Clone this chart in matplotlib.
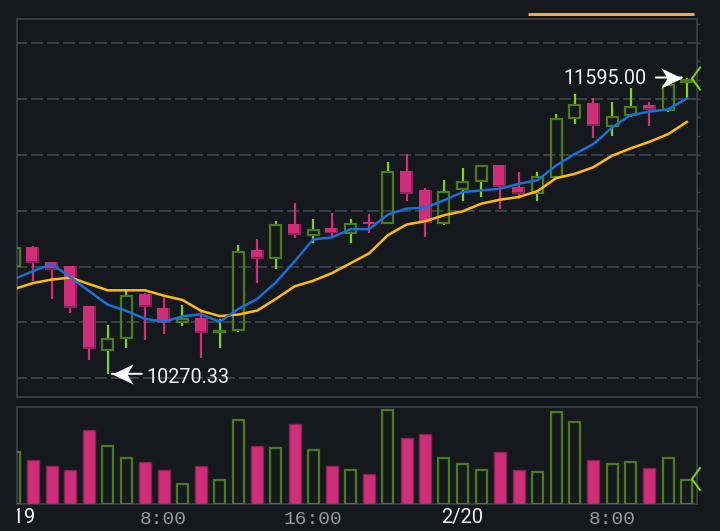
import matplotlib
matplotlib.use('Agg')
import matplotlib.pyplot as plt
from matplotlib.patches import Rectangle
from matplotlib.lines import Line2D
from matplotlib.path import Path
from matplotlib import transforms as mtrans
import numpy as np

# ---------------- data ----------------
tick_idx = [0, 8, 16, 24, 32]
tick_labels = ['2/19', '8:00', '16:00', '2/20', '8:00']
date_ticks = ['2/19', '2/20']

opens = [10745.7, 10838.9, 10769.2, 10750.2, 10572.6, 10372.9, 10427.5, 10627.2, 10565.1, 10497.2,
         10520.7, 10452.8, 10461.7, 10822.5, 10782.6, 10937.9, 10887.7, 10920.1, 10894.8, 10949.0,
         10942.3, 11177.5, 11090.1, 10942.3, 11090.1, 11127.4, 11204.2, 11106.5, 11075.5, 11145.1,
         11411.4, 11482.4, 11375.9, 11423.0, 11470.5, 11445.2, 11571.2]
highs = [10878.9, 10842.0, 10772.0, 10752.0, 10575.0, 10488.3, 10639.2, 10630.0, 10621.5, 10577.1,
         10550.5, 10517.6, 10846.0, 10872.7, 10952.5, 11032.4, 10961.4, 10988.0, 10961.4, 10986.7,
         11218.8, 11253.0, 11102.1, 11138.9, 11190.9, 11205.0, 11206.0, 11174.4, 11174.4, 11430.5,
         11522.4, 11501.5, 11485.1, 11545.9, 11485.1, 11570.0, 11595.0]
lows = [10668.5, 10683.6, 10606.4, 10542.9, 10331.2, 10270.33, 10384.5, 10420.0, 10446.6, 10482.1,
        10340.1, 10384.5, 10458.0, 10676.0, 10739.5, 10878.9, 10854.9, 10878.9, 10853.6, 10900.2,
        10940.0, 11041.3, 10881.5, 10934.8, 11041.3, 11059.1, 11005.8, 11050.2, 11041.3, 11143.0,
        11386.1, 11324.0, 11334.2, 11420.3, 11378.6, 11442.5, 11501.5]
closes = [10838.9, 10764.8, 10735.1, 10565.1, 10380.0, 10428.9, 10624.1, 10568.2, 10498.5, 10517.6,
          10452.8, 10466.1, 10821.2, 10782.6, 10937.9, 10890.4, 10918.8, 10898.0, 10944.5, 10937.9,
          11176.2, 11075.5, 10946.8, 11087.5, 11131.8, 11202.8, 11105.2, 11075.5, 11156.7, 11414.1,
          11478.0, 11378.6, 11423.0, 11467.4, 11449.6, 11568.1, 11590.3]
volumes = [53, 45, 39, 35, 75, 59, 47, 43, 35, 21, 39, 25, 85, 59, 57, 81, 55, 39, 35, 31,
           95, 67, 71, 47, 41, 35, 53, 35, 33, 93, 83, 45, 41, 43, 37, 47, 25]
ma_blue = [10693.8, 10729.3, 10760.4, 10702.7, 10640.5, 10579.7, 10551.8, 10516.3, 10503.0, 10527.4,
           10536.3, 10503.0, 10560.7, 10605.0, 10679.2, 10772.4, 10871.3, 10880.2, 10917.0, 10917.0,
           10982.3, 11008.9, 11013.3, 11045.7, 11083.0, 11090.1, 11097.7, 11119.8, 11135.4, 11201.1,
           11253.0, 11297.4, 11371.5, 11427.4, 11442.5, 11452.7, 11501.5]
ma_yellow = [10649.4, 10676.0, 10691.6, 10700.5, 10671.6, 10643.7, 10643.7, 10643.7, 10619.7, 10600.6,
             10551.8, 10528.3, 10535.4, 10553.1, 10605.0, 10661.4, 10686.3, 10720.4, 10764.8, 10809.2,
             10890.4, 10937.9, 10952.5, 10979.2, 10996.9, 11031.1, 11048.8, 11060.8, 11086.6, 11145.1,
             11164.2, 11194.0, 11245.4, 11278.3, 11307.6, 11341.7, 11396.3]
grid_levels = [10250, 10500, 10750, 11000, 11250, 11500, 11750]

# ---------------- style ----------------
BG = '#15181c'
BORDER = '#353b43'
GRID = '#394049'
PINK = '#cf2e7b'
PINK_D = '#8a2456'
GREEN_E = '#4b7b1c'
LIME = '#7ed321'
BLUE = '#1a6fd8'
YELLOW = '#fbbd08'
ORANGE = '#f5a742'
PX = 0.72  # points per pixel at dpi 100

W, H = 720, 531
fig = plt.figure(figsize=(W / 100, H / 100), dpi=100, facecolor=BG)

ax = fig.add_axes([17 / W, 134 / H, 680 / W, 378 / H])
axv = fig.add_axes([17 / W, 27 / H, 680 / W, 97 / H])
for a in (ax, axv):
    a.set_facecolor(BG)
    for s in a.spines.values():
        s.set_color(BORDER)
        s.set_linewidth(2 * PX)
    a.set_xticks([])

n = len(opens)
xs = np.arange(n)
ax.set_xlim(0.1445, 36.547)
ax.set_ylim(10179, 11856.6)
axv.set_xlim(0.1445, 36.547)
axv.set_ylim(0, 97)

# pixel scales
ppx = 680 / (36.547 - 0.1445)           # px per x unit
ppy = 378 / (11856.6 - 10179)           # px per price unit
ppv = 97 / 97.0                          # px per volume unit

# grid
for g in grid_levels:
    ax.axhline(g, color=GRID, lw=2 * PX, linestyle=(1.0, (6.0, 2.0)), zorder=0.5)

# right side ticks
ax.yaxis.set_ticks_position('right')
ax.set_yticks(np.arange(10250 - 250 / 3, 11857, 250 / 3))
ax.tick_params(axis='y', length=2, width=1, color='#3a4048', labelright=False, direction='out')
axv.set_yticks([])

body_w = 13 / ppx
hollow_w = 11 / ppx

# candles
for i in range(n):
    o, h, l, c = opens[i], highs[i], lows[i], closes[i]
    if c >= o:
        e = 1 / ppy
        hgt = max(c - o - 2 * e, 0.3 / ppy)
        ax.add_patch(Rectangle((i - hollow_w / 2, o + e), hollow_w, hgt, facecolor='none',
                               edgecolor=GREEN_E, lw=2.2 * PX, zorder=3))
        if h > c:
            ax.vlines(i, c, h, color=LIME, lw=2.2 * PX, zorder=2)
        if l < o:
            ax.vlines(i, l, o, color=LIME, lw=2.2 * PX, zorder=2)
    else:
        ax.vlines(i, l, h, color=PINK, lw=2.2 * PX, zorder=2)
        ht = o - c
        ax.add_patch(Rectangle((i - body_w / 2, c), body_w, ht, facecolor=PINK_D,
                               edgecolor='none', zorder=3))
        sh_y = min(2 / ppy, 0.35 * ht)
        ax.add_patch(Rectangle((i - body_w / 2, c + sh_y), body_w - 2 / ppx, ht - sh_y,
                               facecolor=PINK, edgecolor='none', zorder=3.1))

# moving averages
ax.plot(xs, ma_yellow, color=YELLOW, lw=2.5 * PX, zorder=4, solid_joinstyle='round')
ax.plot(xs, ma_blue, color=BLUE, lw=2.5 * PX, zorder=4.1, solid_joinstyle='round')

# volume bars
for i in range(n):
    v = volumes[i]
    if closes[i] >= opens[i]:
        axv.add_patch(Rectangle((i - hollow_w / 2, 0), hollow_w, v - 1 / ppv, facecolor='none',
                                edgecolor=GREEN_E, lw=2.2 * PX, zorder=3))
    else:
        axv.add_patch(Rectangle((i - 12 / ppx / 2, 0), 12 / ppx, v - 0.7, facecolor=PINK,
                                edgecolor=PINK_D, lw=1.4 * PX, zorder=3))

# arrow head marker (tip at origin)
head = Path([(0, 0), (21, 10), (15, 0), (21, -10), (0, 0)],
            [Path.MOVETO, Path.LINETO, Path.LINETO, Path.LINETO, Path.CLOSEPOLY])
head_r = Path([(0, 0), (-21, 10), (-15, 0), (-21, -10), (0, 0)],
              [Path.MOVETO, Path.LINETO, Path.LINETO, Path.LINETO, Path.CLOSEPOLY])
ms = 2 * 21 * PX

imax = int(np.argmax(highs))
imin = int(np.argmin(lows))
hi, lo = highs[imax], lows[imin]

# low annotation
t_low = mtrans.offset_copy(ax.transData, fig, x=4, y=0, units='dots')
ax.plot([imin], [lo], marker=head, ms=ms, color='white', mec='none', transform=t_low,
        zorder=6, clip_on=False)
ax.annotate('', xy=(imin, lo), xytext=(30, 0), textcoords='offset pixels',
            xycoords=t_low, arrowprops=dict(arrowstyle='-', color='white', lw=2 * PX,
                                             shrinkA=0, shrinkB=0), zorder=6)
ax.annotate(f'{lo:.2f}', xy=(imin, lo), xytext=(39, -2), textcoords='offset pixels',
            ha='left', va='center_baseline', color='#f2f2f2', fontsize=14.2, family='Roboto', zorder=6)

# high annotation
t_high = mtrans.offset_copy(ax.transData, fig, x=-5, y=0, units='dots')
ax.plot([imax], [hi], marker=head_r, ms=ms, color='white', mec='none', transform=t_high,
        zorder=6, clip_on=False)
ax.annotate('', xy=(imax, hi), xytext=(-26, 0), textcoords='offset pixels',
            xycoords=t_high, arrowprops=dict(arrowstyle='-', color='white', lw=2 * PX,
                                              shrinkA=0, shrinkB=0), zorder=6)
ax.annotate(f'{hi:.2f}', xy=(imax, hi), xytext=(-40, 1), textcoords='offset pixels',
            ha='right', va='center_baseline', color='#f2f2f2', fontsize=14.2, family='Roboto', zorder=6)

# last value chevrons at right edge
def chevron(axis, yval):
    xr = axis.transAxes.transform((1, 0))[0]
    yd = axis.transData.transform((0, yval))[1]
    xs_ = [xr + 3, xr - 5, xr + 3]
    ys_ = [yd + 11, yd, yd - 11]
    fig.add_artist(Line2D(xs_, ys_, color=LIME, lw=2 * PX, transform=mtrans.IdentityTransform(),
                          solid_joinstyle='miter', zorder=7))

chevron(ax, closes[-1])
chevron(axv, volumes[-1])

# time axis labels
clip_rect = Rectangle((17 / W, 0), 1, 1, transform=fig.transFigure, facecolor='none', edgecolor='none')
fig.add_artist(clip_rect)
bt = mtrans.blended_transform_factory(axv.transData, fig.transFigure)
for i, lab in zip(tick_idx, tick_labels):
    if lab in date_ticks:
        t = fig.text(i, (H - 518) / H, lab, transform=bt, ha='center', va='center',
                     color='#f5f5f5', fontsize=14.5, family='Roboto')
    else:
        t = fig.text(i, (H - 519) / H, lab, transform=bt, ha='center', va='center',
                     color='#9a9a9a', fontsize=14, family='Liberation Mono')
    t.set_clip_path(clip_rect)

# orange bar at top
fig.add_artist(Line2D([528 / W, 694 / W], [(H - 14) / H] * 2, color=ORANGE, lw=3 * PX,
                      solid_capstyle='butt', transform=fig.transFigure))

fig.savefig('out.png', dpi=100, facecolor=BG)
